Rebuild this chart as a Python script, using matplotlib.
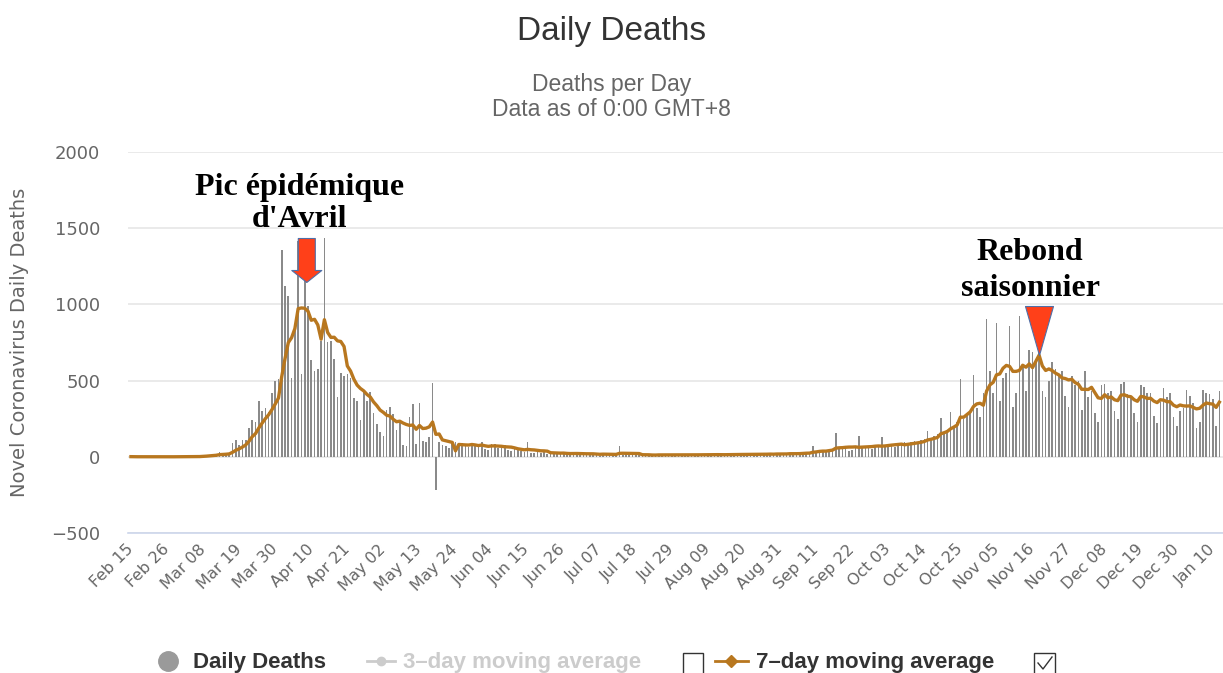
import numpy as np
import pandas as pd
import matplotlib
matplotlib.use("Agg")
import matplotlib.pyplot as plt
from matplotlib.lines import Line2D
from matplotlib.patches import Rectangle

# Décès quotidiens, du 15 février 2020 au 12 janvier 2021
feb = [1, 0, 0, 0, 0, 0, 0, 0, 0, 0, 0, 1, 0, 0, 1]
mar = [0, 1, 1, 0, 2, 2, 5, 9, 11, 15, 15, 13, 31, 12, 21, 27, 89, 108, 78, 112,
       112, 186, 240, 231, 365, 299, 319, 292, 418, 499, 509]
apr = [1355, 1120, 1053, 518, 833, 1417, 541, 1341, 987, 635, 561, 574, 762, 1438, 753,
       761, 642, 395, 547, 531, 544, 516, 389, 369, 242, 437, 367, 427, 289, 218]
may = [166, 135, 306, 330, 278, 178, 243, 80, 70, 263, 348, 83, 351, 104, 96, 131,
       483, -217, 100, 79, 68, 60, 90, 95, 75, 88, 70, 62, 85, 70, 66]
jun = [100, 52, 45, 81, 87, 61, 57, 79, 44, 35, 48, 45, 35, 34, 100, 27, 26, 30, 24, 31,
       21, 28, 19, 20, 25, 26, 17, 14, 29, 21]
jul = [14, 19, 25, 17, 12, 20, 8, 21, 16, 22, 14, 10, 68, 12, 19, 18, 14, 10, 9, 14,
       11, 16, 8, 12, 17, 9, 13, 14, 10, 15, 11]
aug = [12, 14, 9, 16, 11, 18, 13, 15, 12, 14, 17, 10, 16, 12, 18, 15, 14, 19, 13, 17,
       16, 20, 14, 18, 15, 19, 17, 21, 16, 22, 18]
sep = [15, 22, 28, 20, 18, 25, 30, 22, 26, 68, 35, 42, 38, 30, 45, 50, 157, 52, 48, 55,
       40, 46, 58, 138, 60, 55, 62, 50, 65, 68]
oct_ = [129, 70, 75, 80, 65, 85, 78, 100, 90, 95, 105, 88, 110, 115, 170, 120, 135, 150,
        254, 160, 175, 291, 200, 230, 512, 250, 280, 300, 538, 320, 260]
nov = [420, 903, 560, 420, 881, 363, 520, 550, 860, 330, 420, 925, 600, 430, 702, 690,
       620, 700, 430, 394, 500, 625, 575, 540, 560, 400, 330, 531, 470, 500]
dec = [310, 560, 390, 430, 290, 230, 470, 480, 420, 430, 300, 250, 480, 490, 410, 400,
       290, 230, 470, 460, 420, 420, 270, 220, 360, 450, 390, 420, 260, 200, 300]
jan = [320, 440, 400, 350, 190, 230, 440, 420, 410, 380, 200, 430]

tick_labels = ["Feb 15", "Feb 26", "Mar 08", "Mar 19", "Mar 30", "Apr 10", "Apr 21",
               "May 02", "May 13", "May 24", "Jun 04", "Jun 15", "Jun 26", "Jul 07",
               "Jul 18", "Jul 29", "Aug 09", "Aug 20", "Aug 31", "Sep 11", "Sep 22",
               "Oct 03", "Oct 14", "Oct 25", "Nov 05", "Nov 16", "Nov 27", "Dec 08",
               "Dec 19", "Dec 30", "Jan 10"]
y_ticks = [-500, 0, 500, 1000, 1500, 2000]

daily = np.array(feb + mar + apr + may + jun + jul + aug + sep + oct_ + nov + dec + jan)
days = np.arange(len(daily))
avg7 = pd.Series(daily).rolling(7, min_periods=1).mean().to_numpy()

W, H = 1223, 673
fig = plt.figure(figsize=(W / 100, H / 100), dpi=100)


def fx(p):
    return p / W


def fy(p):
    return 1 - p / H


ax = fig.add_axes([fx(128), fy(533), 1095 / W, (533 - 152) / H])
ax.bar(days, daily, width=0.5, color="#8a8a8a", linewidth=0, zorder=2)
ax.plot(days, avg7, color="#b8771f", lw=2.4, zorder=3, solid_joinstyle="round")

ax.set_xlim(-0.9, 333.1)
ax.set_ylim(-500, 2000)
ax.set_yticks(y_ticks)
ax.set_yticklabels([str(v).replace("-", "\u2212") for v in y_ticks])
ax.set_xticks(np.arange(0, 11 * len(tick_labels), 11))
ax.set_xticklabels(tick_labels, rotation=45, ha="right", va="center",
                   rotation_mode="anchor")
ax.grid(axis="y", color="#e6e6e6", lw=1.2)
ax.set_axisbelow(True)
for s in ["top", "right", "left"]:
    ax.spines[s].set_visible(False)
ax.spines["bottom"].set_color("#ccd6eb")
ax.spines["bottom"].set_linewidth(1.2)
ax.tick_params(axis="y", length=0, pad=20, labelsize=13, labelcolor="#666666")
ax.tick_params(axis="x", length=0, pad=10, labelsize=11.5, labelcolor="#666666")

# flèches d'annotation (formes en pixels, ancrées sur les pics de la moyenne 7 jours)
i1 = int(np.argmax(avg7[:150]))
i2 = 200 + int(np.argmax(avg7[200:]))
pt = 0.72
block_arrow = [(5.3, 26), (20.3, 38), (13.8, 38), (13.8, 70), (-3.2, 70), (-3.2, 38),
               (-9.7, 38), (5.3, 26)]
triangle = [(0, 0), (-14, 49), (14, 49), (0, 0)]
ax.plot([i1], [avg7[i1]], marker=block_arrow, ms=2 * 70 * pt, mfc="#ff4019",
        mec="#4f6fa8", mew=0.8, ls="", zorder=5)
ax.plot([i2], [avg7[i2]], marker=triangle, ms=2 * 49 * pt, mfc="#ff4019",
        mec="#4f6fa8", mew=0.8, ls="", zorder=5)

ax.annotate("Pic épidémique\nd'Avril", xy=(i1, avg7[i1]), xytext=(-1.2, 75),
            textcoords="offset points", ha="center", va="center", fontsize=23,
            fontweight="bold", family="Liberation Serif", linespacing=1.15, zorder=6)
ax.annotate("Rebond\nsaisonnier", xy=(i2, avg7[i2]), xytext=(-6.5, 61),
            textcoords="offset points", ha="center", va="center", fontsize=23,
            fontweight="bold", family="Liberation Serif", linespacing=1.35, zorder=6)

# titres
fig.text(0.5, fy(40), "Daily Deaths", ha="center", va="baseline", fontsize=24,
         color="#333333", family="Liberation Sans")
fig.text(0.5, fy(91), "Deaths per Day", ha="center", va="baseline", fontsize=16.5,
         color="#666666", family="Liberation Sans")
fig.text(0.5, fy(116), "Data as of 0:00 GMT+8", ha="center", va="baseline",
         fontsize=16.5, color="#666666", family="Liberation Sans")
fig.text(fx(20), fy(342), "Novel Coronavirus Daily Deaths", rotation=90, ha="center",
         va="center", fontsize=14, color="#666666")

# légende
ly = fy(661)
tf = fig.transFigure
fig.add_artist(Line2D([fx(168)], [ly], marker="o", ms=14, color="#9a9a9a", ls="",
                      transform=tf))
fig.text(fx(193), fy(668), "Daily Deaths", fontsize=16, fontweight="bold",
         color="#333333", family="Liberation Sans", va="baseline")
fig.add_artist(Line2D([fx(367), fx(395)], [ly, ly], color="#cccccc", lw=2, transform=tf))
fig.add_artist(Line2D([fx(381)], [ly], marker="o", ms=6, color="#cccccc", transform=tf))
fig.text(fx(403), fy(668), "3\u2013day moving average", fontsize=16, fontweight="bold",
         color="#cccccc", family="Liberation Sans", va="baseline")
fig.add_artist(Rectangle((fx(683), fy(675)), fx(20), 22 / H, fill=False, ec="#333333",
                         lw=1, transform=tf))
fig.add_artist(Line2D([fx(715), fx(748)], [ly, ly], color="#b8771f", lw=2, transform=tf))
fig.add_artist(Line2D([fx(731)], [ly], marker="D", ms=6, color="#b8771f", transform=tf))
fig.text(fx(756), fy(668), "7\u2013day moving average", fontsize=16, fontweight="bold",
         color="#333333", family="Liberation Sans", va="baseline")
fig.add_artist(Rectangle((fx(1034), fy(675)), fx(21), 22 / H, fill=False, ec="#333333",
                         lw=1, transform=tf))
fig.add_artist(Line2D([fx(1038), fx(1043), fx(1052)], [fy(663), fy(669), fy(657)],
                      color="#333333", lw=1, transform=tf))

fig.savefig("out.png", dpi=100)
